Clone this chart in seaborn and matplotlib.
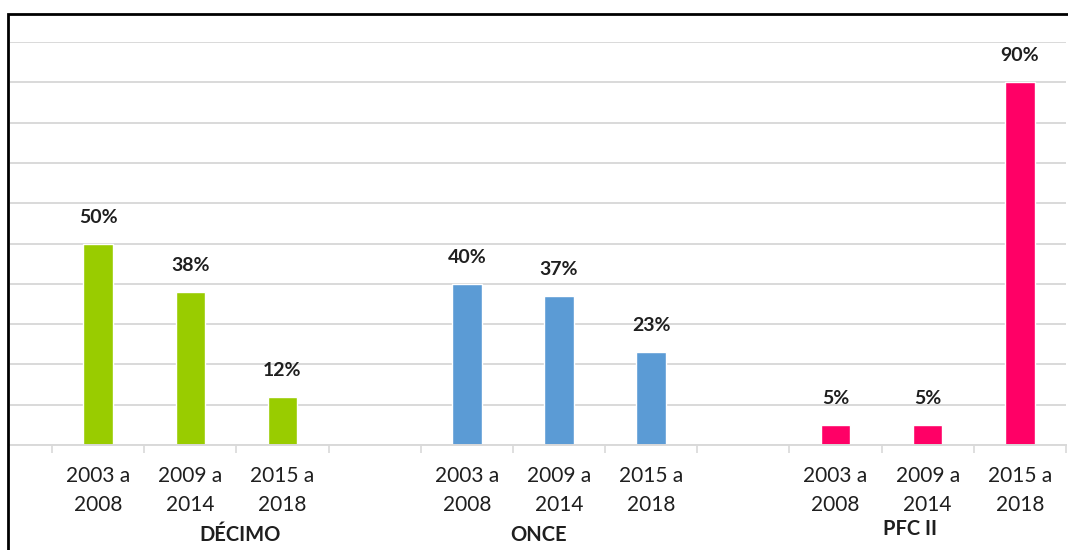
import matplotlib
matplotlib.use("Agg")
import matplotlib.pyplot as plt
from matplotlib.patches import Rectangle
import seaborn as sns
import pandas as pd

# chart values
groups = ["DÉCIMO", "ONCE", "PFC II"]
periods = ["2003 a\n2008", "2009 a\n2014", "2015 a\n2018"]
decimo = [50, 38, 12]
once = [40, 37, 23]
pfc = [5, 5, 90]
colors = {"DÉCIMO": "#99CC00", "ONCE": "#5B9BD5", "PFC II": "#FF0066"}

rows = []
for g, vals in zip(groups, [decimo, once, pfc]):
    for p, v in zip(periods, vals):
        rows.append({"slot": g + "|" + p, "group": g, "period": p, "pct": v})
df = pd.DataFrame(rows)

# one empty slot between groups, like the Excel chart
order = []
for i, g in enumerate(groups):
    order += [g + "|" + p for p in periods]
    if i < len(groups) - 1:
        order.append("gap%d" % i)

sns.set_style("white")
plt.rcParams["font.family"] = ["Lato", "DejaVu Sans"]
text_color = "#1F1F1F"

fig = plt.figure(figsize=(10.68, 5.5), dpi=100)
ax = fig.add_axes([10 / 1068, 105 / 550, 1056 / 1068, 403 / 550])

sns.barplot(data=df, x="slot", y="pct", hue="group", order=order,
            palette=colors, dodge=False, width=0.32, legend=False,
            saturation=1, ax=ax)

ax.set_ylim(0, 100)
ax.set_xlim(-0.956, 10.5)
ax.set_yticks(range(0, 101, 10))
ax.yaxis.grid(True, color="#D9D9D9", linewidth=1.4)
ax.set_axisbelow(True)
ax.tick_params(axis="y", left=False, labelleft=False)
for s in ["top", "right", "left"]:
    ax.spines[s].set_visible(False)
ax.spines["bottom"].set_color("#D9D9D9")
ax.spines["bottom"].set_linewidth(1.4)
ax.set_xlabel("")
ax.set_ylabel("")

# tick labels at slot centres, tick marks at slot boundaries
labels = [s.split("|")[1] if "|" in s else "" for s in order]
ax.set_xticks(range(len(order)))
ax.set_xticklabels(labels, fontsize=15, color=text_color, linespacing=1.55)
ax.tick_params(axis="x", which="major", bottom=False, length=0, pad=15)
ax.set_xticks([i - 0.5 for i in range(len(order) + 1)], minor=True)
ax.tick_params(axis="x", which="minor", bottom=True, direction="out",
               length=5.5, width=1.2, color="#D9D9D9")

# value labels
for s, v in zip(df["slot"], df["pct"]):
    ax.annotate("%d%%" % v, (order.index(s), v), xytext=(0, 19),
                textcoords="offset points", ha="center", va="center",
                fontsize=14, fontweight="bold", color=text_color)

# group labels under the periods
group_pos = {"DÉCIMO": (1.54, -0.223), "ONCE": (4.78, -0.223), "PFC II": (8.81, -0.208)}
for g in groups:
    x, y = group_pos[g]
    ax.text(x, y, g, transform=ax.get_xaxis_transform(), ha="center",
            va="center", fontsize=14.5, fontweight="bold", color=text_color)

# black frame round the chart
fig.patches.append(Rectangle((8 / 1068, -0.1), 1.2, 0.1 + 536 / 550,
                             transform=fig.transFigure, fill=False,
                             edgecolor="black", linewidth=2))

fig.savefig("out.png", dpi=100)
